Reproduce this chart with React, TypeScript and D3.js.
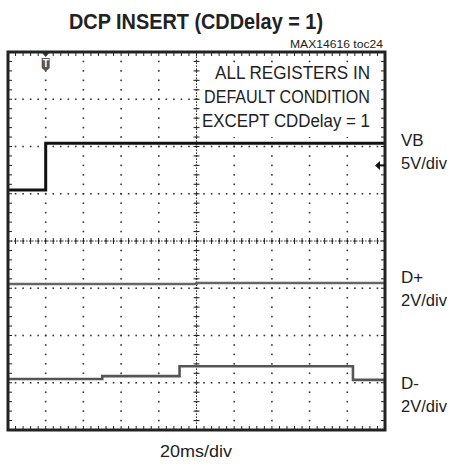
import React from 'react';
import * as d3 from 'd3';

// time axis in ms (20ms/div, 10 divisions); vertical in screen divisions (-4..4)
const vbTime = [0, 20, 20, 200];
const vbLevel = [1.08, 1.08, 2.07, 2.07];

const dpTime = [0, 100, 100, 200];
const dpLevel = [-0.91, -0.91, -0.89, -0.89];

const dmTime = [0, 50, 50, 91, 91, 183, 183, 200];
const dmLevel = [-2.92, -2.92, -2.86, -2.86, -2.65, -2.65, -2.94, -2.94];

const noteLines = ['ALL REGISTERS IN', 'DEFAULT CONDITION', 'EXCEPT CDDelay = 1'];
const noteWidths = [155, 166, 168];
const channelLabels = [
  { name: 'VB', scale: '5V/div', y: 146 },
  { name: 'D+', scale: '2V/div', y: 283 },
  { name: 'D-', scale: '2V/div', y: 389 },
];
const triggerTime = 20;
const vbGroundLevel = 1.6;

const FONT = "'Liberation Sans', Arial, sans-serif";

export default function App() {
  const left = 8, right = 385, top = 52, bottom = 430;
  const x = d3.scaleLinear().domain([0, 200]).range([left, right]);
  const y = d3.scaleLinear().domain([-4, 4]).range([bottom, top]);

  const majorT = d3.range(20, 200, 20);
  const majorV = d3.range(-3, 4, 1);
  const minorT = d3.range(0, 200.01, 4);
  const minorV = d3.range(-4, 4.01, 0.2);

  const line = (t: number[], v: number[]) =>
    d3.line<number>().x((_, i) => x(t[i])).y((_, i) => y(v[i]))(t) || '';

  const dots: JSX.Element[] = [];
  majorT.forEach((t) => {
    minorV.forEach((v, j) => {
      dots.push(<rect key={`vt${t}-${j}`} x={x(t) - 0.8} y={y(v) - 0.8} width={1.6} height={1.6} fill="#333" />);
    });
  });
  majorV.forEach((v) => {
    minorT.forEach((t, j) => {
      dots.push(<rect key={`hv${v}-${j}`} x={x(t) - 0.8} y={y(v) - 0.8} width={1.6} height={1.6} fill="#333" />);
    });
  });

  const ticks: JSX.Element[] = [];
  minorT.forEach((t, j) => {
    ticks.push(<line key={`tb${j}`} x1={x(t)} x2={x(t)} y1={bottom} y2={bottom - 4} stroke="#222" strokeWidth={1} />);
    ticks.push(<line key={`tt${j}`} x1={x(t)} x2={x(t)} y1={top} y2={top + 4} stroke="#222" strokeWidth={1} />);
    ticks.push(<line key={`tc${j}`} x1={x(t)} x2={x(t)} y1={y(0) - 3} y2={y(0) + 3} stroke="#222" strokeWidth={1} />);
  });
  minorV.forEach((v, j) => {
    ticks.push(<line key={`tl${j}`} x1={left} x2={left + 4} y1={y(v)} y2={y(v)} stroke="#222" strokeWidth={1} />);
    ticks.push(<line key={`tr${j}`} x1={right} x2={right - 4} y1={y(v)} y2={y(v)} stroke="#222" strokeWidth={1} />);
    ticks.push(<line key={`tm${j}`} x1={x(100) - 3} x2={x(100) + 3} y1={y(v)} y2={y(v)} stroke="#222" strokeWidth={1} />);
  });

  const tx = x(triggerTime);
  const gy = y(vbGroundLevel);

  return (
    <svg width={452} height={466} style={{ position: 'absolute', left: 0, top: 0, background: '#fff' }}>
      <rect width={452} height={466} fill="#fff" />
      <text x={196} y={28.5} textAnchor="middle" fontFamily={FONT} fontWeight="bold" fontSize={22.5}
        textLength={254} lengthAdjust="spacingAndGlyphs" fill="#222">DCP INSERT (CDDelay = 1)</text>
      <text x={383} y={47.5} textAnchor="end" fontFamily={FONT} fontSize={11}
        textLength={93} lengthAdjust="spacingAndGlyphs" fill="#222">MAX14616 toc24</text>

      {dots}
      <line x1={x(0)} x2={x(200)} y1={y(0)} y2={y(0)} stroke="#333" strokeWidth={1} strokeDasharray="1.6 1.4" />
      <line x1={x(100)} x2={x(100)} y1={y(-4)} y2={y(4)} stroke="#333" strokeWidth={1} strokeDasharray="1.6 1.4" />
      {ticks}

      <rect x={203} y={63} width={176} height={74} fill="#fff" />
      {noteLines.map((s, i) => (
        <text key={s} x={370} y={78.5 + i * 24} textAnchor="end" fontFamily={FONT} fontSize={17.5}
          textLength={noteWidths[i]} lengthAdjust="spacingAndGlyphs" fill="#222">{s}</text>
      ))}

      <path d={line(dpTime, dpLevel)} fill="none" stroke="#666" strokeWidth={2.6} />
      <path d={line(dmTime, dmLevel)} fill="none" stroke="#555" strokeWidth={2.6} />
      <path d={line(vbTime, vbLevel)} fill="none" stroke="#111" strokeWidth={3} />

      <rect x={left} y={top} width={right - left} height={bottom - top} fill="none" stroke="#222" strokeWidth={3} />

      {/* trigger marker */}
      <path d={`M${tx - 3.5},${top + 1} L${tx + 3.5},${top + 1} L${tx},${top + 5} Z`} fill="#333" />
      <path d={`M${tx - 4},${top + 6} L${tx + 4},${top + 6} L${tx + 4},${top + 16} L${tx},${top + 19.5} L${tx - 4},${top + 16} Z`} fill="#555" />
      <text x={tx} y={top + 15} textAnchor="middle" fontFamily={FONT} fontWeight="bold" fontSize={10} fill="#fff">T</text>

      {/* VB ground marker */}
      <path d={`M${right - 10},${gy} L${right - 5},${gy - 4.5} L${right - 5},${gy + 4.5} Z`} fill="#111" />
      <line x1={right - 6} x2={right} y1={gy} y2={gy} stroke="#111" strokeWidth={2} />

      {channelLabels.map((c) => (
        <g key={c.name}>
          <text x={401} y={c.y} fontFamily={FONT} fontSize={17} fill="#222">{c.name}</text>
          <text x={401} y={c.y + 23} fontFamily={FONT} fontSize={17} textLength={46}
            lengthAdjust="spacingAndGlyphs" fill="#222">{c.scale}</text>
        </g>
      ))}

      <text x={196} y={457} textAnchor="middle" fontFamily={FONT} fontSize={17}
        textLength={72} lengthAdjust="spacingAndGlyphs" fill="#222">20ms/div</text>
    </svg>
  );
}
